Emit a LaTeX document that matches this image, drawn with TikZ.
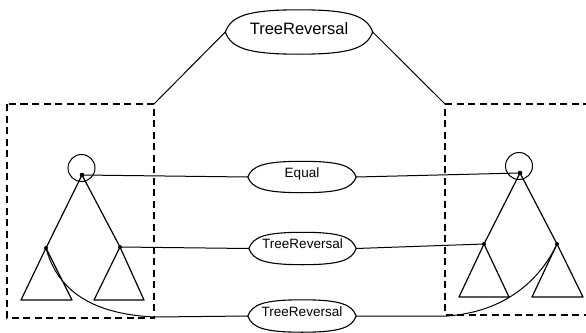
\documentclass[tikz,border=0pt]{standalone}
\usepackage{fontspec}
\setmainfont{Liberation Sans}
\usetikzlibrary{calc}
\tikzset{
  lensnode/.style={minimum width=#1, minimum height=32pt, inner sep=0pt,
    text height=9.5pt, text depth=9.5pt, font=\fontsize{13.5}{14}\selectfont},
  lensline/.style={line width=1.1pt},
  wire/.style={line width=1pt},
  treeline/.style={line width=1.2pt, line join=round},
  boxline/.style={line width=1.4pt, dash pattern=on 7pt off 4.5pt},
  rootring/.style={line width=1pt},
  knot/.style={fill=black}
}
% pointed oval drawn round a node
\newcommand\lensoutline[1]{%
  \draw[lensline] let \p1=(#1.west), \p2=(#1.north), \p3=(#1.east), \p4=(#1.south),
    \n1={\x3-\x1} in
    (\p1) .. controls ({\x1+0.04*\n1},{\y1+0.7*(\y2-\y1)}) and ({\x1+0.14*\n1},\y2) .. (\p2)
    .. controls ({\x3-0.14*\n1},\y2) and ({\x3-0.04*\n1},{\y3+0.7*(\y2-\y3)}) .. (\p3)
    .. controls ({\x3-0.04*\n1},{\y3+0.7*(\y4-\y3)}) and ({\x3-0.14*\n1},\y4) .. (\p4)
    .. controls ({\x1+0.14*\n1},\y4) and ({\x1+0.04*\n1},{\y1+0.7*(\y4-\y1)}) .. cycle;}
\begin{document}
\begin{tikzpicture}[x=1pt,y=-1pt]
\useasboundingbox (0,0) rectangle (586,332);

% relation nodes
\node[lensnode=147pt, minimum height=44pt, text height=14pt, text depth=10pt,
      font=\fontsize{16.5}{18}\selectfont] (top) at (299,32) {TreeReversal};
\node[lensnode=108pt, minimum height=31pt] (eq)  at (302,177) {Equal};
\node[lensnode=107pt] (mid) at (302.5,248.5) {TreeReversal};
\node[lensnode=108pt] (bot) at (302,316) {TreeReversal};
\foreach \nm in {top,eq,mid,bot} {\lensoutline{\nm}}

% left tree
\coordinate (lroot) at (82,175);
\coordinate (llc) at (46,248);
\coordinate (lrc) at (120,247);
\draw[rootring] (81.5,168) circle[radius=13.5pt];
\draw[treeline] (llc) -- (lroot) -- (lrc);
\draw[treeline] (llc) -- (21,300) -- (72,300) -- cycle;
\draw[treeline] (lrc) -- (94,300) -- (144,300) -- cycle;
\fill[knot] (lroot) circle[radius=2.3pt];
\fill[knot] (llc) circle[radius=2pt];
\fill[knot] (lrc) circle[radius=2pt];

% right tree
\coordinate (rroot) at (520,173);
\coordinate (rlc) at (484,244);
\coordinate (rrc) at (557,244);
\draw[rootring] (519,166) circle[radius=13.5pt];
\draw[treeline] (rlc) -- (rroot) -- (rrc);
\draw[treeline] (rlc) -- (459,297) -- (509,297) -- cycle;
\draw[treeline] (rrc) -- (532,297) -- (583,297) -- cycle;
\fill[knot] (rroot) circle[radius=2.3pt];
\fill[knot] (rlc) circle[radius=2pt];
\fill[knot] (rrc) circle[radius=2pt];

% dashed frames
\coordinate (lframe) at (154,104);
\coordinate (rframe) at (445,104);
\coordinate (lfoot) at (155,317);
\coordinate (rfoot) at (447,316);
\draw[boxline] (7,104) rectangle (154,318);
\draw[boxline] (590,104) -- (rframe) -- (445,315) -- (590,315);

% connectors
\draw[wire] (top.west) -- (lframe);
\draw[wire] (top.east) -- (rframe);
\draw[wire] (lroot) -- (eq.west);
\draw[wire] (rroot) -- (eq.east);
\draw[wire] (lrc) -- (mid.west);
\draw[wire] (rlc) -- (mid.east);
\draw[wire] (llc) .. controls (56,285) and (85,314) .. (lfoot) -- (bot.west);
\draw[wire] (rrc) .. controls (540,280) and (505,312) .. (rfoot) -- (bot.east);
\end{tikzpicture}
\end{document}
